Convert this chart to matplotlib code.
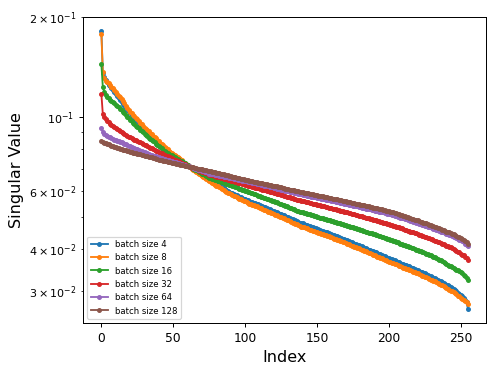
import numpy as np
import matplotlib
matplotlib.use("Agg")
import matplotlib.pyplot as plt

labels = ["batch size 4", "batch size 8", "batch size 16",
          "batch size 32", "batch size 64", "batch size 128"]

bs4 = [
    0.1822, 0.1357, 0.1320, 0.1292, 0.1272, 0.1253, 0.1238, 0.1223, 0.1207, 0.1192,
    0.1177, 0.1160, 0.1144, 0.1127, 0.1111, 0.1094, 0.1081, 0.1068, 0.1054, 0.1041,
    0.1028, 0.1017, 0.1006, 0.0996, 0.0985, 0.0974, 0.0963, 0.0952, 0.0942, 0.0931,
    0.0920, 0.0912, 0.0903, 0.0895, 0.0887, 0.0879, 0.0870, 0.0862, 0.0854, 0.0846,
    0.0837, 0.0829, 0.0821, 0.0813, 0.0804, 0.0796, 0.0791, 0.0785, 0.0780, 0.0774,
    0.0769, 0.0764, 0.0758, 0.0753, 0.0748, 0.0742, 0.0737, 0.0731, 0.0726, 0.0721,
    0.0715, 0.0710, 0.0705, 0.0701, 0.0696, 0.0692, 0.0687, 0.0683, 0.0678, 0.0673,
    0.0669, 0.0664, 0.0660, 0.0655, 0.0651, 0.0646, 0.0642, 0.0639, 0.0635, 0.0632,
    0.0628, 0.0624, 0.0621, 0.0617, 0.0614, 0.0610, 0.0606, 0.0603, 0.0599, 0.0596,
    0.0592, 0.0589, 0.0587, 0.0584, 0.0582, 0.0579, 0.0576, 0.0574, 0.0571, 0.0568,
    0.0566, 0.0563, 0.0561, 0.0558, 0.0556, 0.0554, 0.0552, 0.0550, 0.0548, 0.0546,
    0.0543, 0.0541, 0.0539, 0.0537, 0.0535, 0.0532, 0.0530, 0.0528, 0.0526, 0.0523,
    0.0521, 0.0519, 0.0517, 0.0515, 0.0512, 0.0510, 0.0508, 0.0506, 0.0503, 0.0501,
    0.0499, 0.0497, 0.0494, 0.0492, 0.0490, 0.0488, 0.0486, 0.0483, 0.0481, 0.0479,
    0.0478, 0.0476, 0.0474, 0.0473, 0.0471, 0.0469, 0.0467, 0.0466, 0.0464, 0.0462,
    0.0461, 0.0459, 0.0457, 0.0455, 0.0454, 0.0452, 0.0450, 0.0449, 0.0447, 0.0445,
    0.0444, 0.0442, 0.0440, 0.0438, 0.0437, 0.0435, 0.0433, 0.0432, 0.0430, 0.0428,
    0.0427, 0.0425, 0.0423, 0.0421, 0.0420, 0.0418, 0.0416, 0.0415, 0.0413, 0.0411,
    0.0410, 0.0408, 0.0406, 0.0404, 0.0403, 0.0401, 0.0399, 0.0398, 0.0396, 0.0394,
    0.0393, 0.0391, 0.0389, 0.0388, 0.0386, 0.0384, 0.0382, 0.0381, 0.0379, 0.0377,
    0.0376, 0.0374, 0.0373, 0.0371, 0.0370, 0.0368, 0.0367, 0.0365, 0.0364, 0.0362,
    0.0361, 0.0359, 0.0358, 0.0356, 0.0355, 0.0353, 0.0352, 0.0350, 0.0348, 0.0347,
    0.0345, 0.0344, 0.0342, 0.0341, 0.0339, 0.0338, 0.0336, 0.0335, 0.0333, 0.0332,
    0.0330, 0.0328, 0.0327, 0.0325, 0.0323, 0.0321, 0.0320, 0.0318, 0.0316, 0.0314,
    0.0313, 0.0311, 0.0309, 0.0307, 0.0306, 0.0304, 0.0301, 0.0299, 0.0296, 0.0294,
    0.0291, 0.0288, 0.0285, 0.0282, 0.0277, 0.0264,
]

bs8 = [
    0.1778, 0.1366, 0.1310, 0.1288, 0.1277, 0.1266, 0.1251, 0.1235, 0.1220, 0.1204,
    0.1189, 0.1175, 0.1161, 0.1147, 0.1133, 0.1116, 0.1100, 0.1083, 0.1067, 0.1050,
    0.1039, 0.1028, 0.1017, 0.1006, 0.0995, 0.0985, 0.0974, 0.0963, 0.0952, 0.0941,
    0.0930, 0.0922, 0.0913, 0.0905, 0.0897, 0.0888, 0.0880, 0.0872, 0.0863, 0.0855,
    0.0847, 0.0838, 0.0830, 0.0822, 0.0813, 0.0805, 0.0799, 0.0793, 0.0787, 0.0781,
    0.0775, 0.0769, 0.0763, 0.0758, 0.0752, 0.0746, 0.0740, 0.0734, 0.0728, 0.0722,
    0.0716, 0.0710, 0.0705, 0.0700, 0.0695, 0.0690, 0.0685, 0.0680, 0.0675, 0.0670,
    0.0665, 0.0660, 0.0655, 0.0650, 0.0645, 0.0640, 0.0636, 0.0633, 0.0629, 0.0625,
    0.0622, 0.0618, 0.0614, 0.0611, 0.0607, 0.0603, 0.0600, 0.0596, 0.0592, 0.0589,
    0.0585, 0.0582, 0.0579, 0.0577, 0.0574, 0.0571, 0.0568, 0.0566, 0.0563, 0.0560,
    0.0557, 0.0555, 0.0552, 0.0549, 0.0547, 0.0544, 0.0542, 0.0540, 0.0538, 0.0535,
    0.0533, 0.0531, 0.0529, 0.0526, 0.0524, 0.0522, 0.0519, 0.0517, 0.0515, 0.0513,
    0.0510, 0.0508, 0.0506, 0.0504, 0.0501, 0.0499, 0.0497, 0.0495, 0.0492, 0.0490,
    0.0488, 0.0486, 0.0484, 0.0481, 0.0479, 0.0477, 0.0475, 0.0472, 0.0470, 0.0468,
    0.0467, 0.0465, 0.0463, 0.0462, 0.0460, 0.0458, 0.0457, 0.0455, 0.0453, 0.0452,
    0.0450, 0.0448, 0.0447, 0.0445, 0.0443, 0.0442, 0.0440, 0.0438, 0.0437, 0.0435,
    0.0434, 0.0432, 0.0430, 0.0429, 0.0427, 0.0425, 0.0424, 0.0422, 0.0420, 0.0419,
    0.0417, 0.0415, 0.0414, 0.0412, 0.0410, 0.0409, 0.0407, 0.0405, 0.0404, 0.0402,
    0.0400, 0.0399, 0.0397, 0.0395, 0.0394, 0.0392, 0.0390, 0.0389, 0.0387, 0.0385,
    0.0384, 0.0382, 0.0380, 0.0379, 0.0377, 0.0375, 0.0374, 0.0372, 0.0370, 0.0369,
    0.0367, 0.0366, 0.0364, 0.0363, 0.0361, 0.0360, 0.0358, 0.0357, 0.0355, 0.0354,
    0.0352, 0.0351, 0.0349, 0.0348, 0.0346, 0.0345, 0.0344, 0.0342, 0.0341, 0.0339,
    0.0338, 0.0336, 0.0335, 0.0333, 0.0332, 0.0330, 0.0329, 0.0327, 0.0326, 0.0324,
    0.0323, 0.0321, 0.0320, 0.0318, 0.0316, 0.0314, 0.0313, 0.0311, 0.0309, 0.0307,
    0.0306, 0.0304, 0.0302, 0.0300, 0.0299, 0.0297, 0.0295, 0.0293, 0.0290, 0.0288,
    0.0286, 0.0284, 0.0281, 0.0279, 0.0277, 0.0274,
]

bs16 = [
    0.1441, 0.1234, 0.1189, 0.1165, 0.1152, 0.1138, 0.1125, 0.1117, 0.1108, 0.1100,
    0.1091, 0.1081, 0.1070, 0.1060, 0.1050, 0.1039, 0.1027, 0.1016, 0.1004, 0.0993,
    0.0982, 0.0970, 0.0959, 0.0951, 0.0942, 0.0934, 0.0926, 0.0917, 0.0909, 0.0901,
    0.0892, 0.0884, 0.0876, 0.0867, 0.0859, 0.0852, 0.0846, 0.0839, 0.0832, 0.0825,
    0.0819, 0.0812, 0.0805, 0.0798, 0.0792, 0.0785, 0.0780, 0.0776, 0.0771, 0.0767,
    0.0762, 0.0758, 0.0753, 0.0748, 0.0744, 0.0739, 0.0735, 0.0730, 0.0725, 0.0720,
    0.0715, 0.0710, 0.0706, 0.0702, 0.0699, 0.0695, 0.0691, 0.0687, 0.0683, 0.0680,
    0.0676, 0.0672, 0.0668, 0.0664, 0.0661, 0.0657, 0.0655, 0.0652, 0.0650, 0.0648,
    0.0646, 0.0643, 0.0641, 0.0639, 0.0636, 0.0634, 0.0632, 0.0630, 0.0627, 0.0625,
    0.0623, 0.0620, 0.0618, 0.0616, 0.0614, 0.0611, 0.0609, 0.0607, 0.0604, 0.0602,
    0.0600, 0.0598, 0.0595, 0.0593, 0.0591, 0.0589, 0.0587, 0.0585, 0.0582, 0.0580,
    0.0578, 0.0576, 0.0574, 0.0572, 0.0570, 0.0568, 0.0566, 0.0563, 0.0561, 0.0559,
    0.0557, 0.0555, 0.0553, 0.0551, 0.0549, 0.0546, 0.0544, 0.0542, 0.0540, 0.0538,
    0.0536, 0.0534, 0.0532, 0.0530, 0.0527, 0.0525, 0.0523, 0.0521, 0.0519, 0.0518,
    0.0516, 0.0515, 0.0513, 0.0512, 0.0510, 0.0509, 0.0507, 0.0506, 0.0504, 0.0503,
    0.0501, 0.0500, 0.0498, 0.0497, 0.0495, 0.0494, 0.0493, 0.0491, 0.0490, 0.0488,
    0.0487, 0.0485, 0.0484, 0.0482, 0.0481, 0.0479, 0.0478, 0.0476, 0.0475, 0.0473,
    0.0472, 0.0470, 0.0469, 0.0468, 0.0466, 0.0465, 0.0463, 0.0462, 0.0460, 0.0459,
    0.0457, 0.0456, 0.0454, 0.0453, 0.0451, 0.0450, 0.0448, 0.0447, 0.0446, 0.0444,
    0.0443, 0.0441, 0.0440, 0.0438, 0.0437, 0.0435, 0.0434, 0.0432, 0.0431, 0.0429,
    0.0428, 0.0426, 0.0425, 0.0423, 0.0422, 0.0420, 0.0419, 0.0417, 0.0416, 0.0414,
    0.0413, 0.0411, 0.0410, 0.0408, 0.0407, 0.0405, 0.0404, 0.0402, 0.0400, 0.0399,
    0.0397, 0.0396, 0.0394, 0.0393, 0.0391, 0.0390, 0.0388, 0.0387, 0.0385, 0.0384,
    0.0382, 0.0380, 0.0378, 0.0376, 0.0374, 0.0372, 0.0370, 0.0368, 0.0365, 0.0363,
    0.0361, 0.0359, 0.0357, 0.0355, 0.0353, 0.0351, 0.0349, 0.0347, 0.0345, 0.0343,
    0.0341, 0.0338, 0.0334, 0.0331, 0.0327, 0.0323,
]

bs32 = [
    0.1173, 0.1021, 0.1000, 0.0986, 0.0976, 0.0966, 0.0956, 0.0946, 0.0940, 0.0933,
    0.0927, 0.0920, 0.0914, 0.0908, 0.0902, 0.0896, 0.0890, 0.0884, 0.0878, 0.0872,
    0.0868, 0.0864, 0.0860, 0.0856, 0.0852, 0.0847, 0.0843, 0.0839, 0.0835, 0.0830,
    0.0826, 0.0822, 0.0818, 0.0813, 0.0809, 0.0805, 0.0801, 0.0797, 0.0793, 0.0789,
    0.0786, 0.0782, 0.0778, 0.0774, 0.0770, 0.0766, 0.0763, 0.0759, 0.0756, 0.0752,
    0.0749, 0.0745, 0.0742, 0.0738, 0.0735, 0.0731, 0.0728, 0.0724, 0.0720, 0.0717,
    0.0713, 0.0710, 0.0707, 0.0704, 0.0702, 0.0699, 0.0696, 0.0693, 0.0690, 0.0688,
    0.0685, 0.0682, 0.0679, 0.0677, 0.0674, 0.0671, 0.0669, 0.0667, 0.0666, 0.0664,
    0.0662, 0.0660, 0.0658, 0.0656, 0.0655, 0.0653, 0.0651, 0.0649, 0.0647, 0.0646,
    0.0644, 0.0642, 0.0640, 0.0638, 0.0636, 0.0635, 0.0633, 0.0631, 0.0629, 0.0627,
    0.0625, 0.0624, 0.0622, 0.0620, 0.0618, 0.0617, 0.0615, 0.0613, 0.0612, 0.0610,
    0.0608, 0.0606, 0.0605, 0.0603, 0.0601, 0.0600, 0.0598, 0.0596, 0.0595, 0.0593,
    0.0591, 0.0590, 0.0588, 0.0586, 0.0585, 0.0583, 0.0581, 0.0579, 0.0578, 0.0576,
    0.0574, 0.0573, 0.0571, 0.0569, 0.0568, 0.0566, 0.0564, 0.0563, 0.0561, 0.0560,
    0.0558, 0.0557, 0.0556, 0.0554, 0.0553, 0.0551, 0.0550, 0.0549, 0.0547, 0.0546,
    0.0545, 0.0543, 0.0542, 0.0540, 0.0539, 0.0538, 0.0536, 0.0535, 0.0534, 0.0532,
    0.0531, 0.0529, 0.0528, 0.0527, 0.0525, 0.0524, 0.0523, 0.0521, 0.0520, 0.0519,
    0.0517, 0.0516, 0.0514, 0.0513, 0.0512, 0.0510, 0.0509, 0.0508, 0.0506, 0.0505,
    0.0503, 0.0502, 0.0501, 0.0499, 0.0498, 0.0497, 0.0495, 0.0494, 0.0492, 0.0491,
    0.0490, 0.0488, 0.0487, 0.0486, 0.0484, 0.0483, 0.0481, 0.0480, 0.0479, 0.0477,
    0.0476, 0.0474, 0.0473, 0.0471, 0.0470, 0.0468, 0.0466, 0.0465, 0.0463, 0.0462,
    0.0460, 0.0458, 0.0457, 0.0455, 0.0454, 0.0452, 0.0450, 0.0449, 0.0447, 0.0446,
    0.0444, 0.0442, 0.0441, 0.0439, 0.0438, 0.0436, 0.0434, 0.0433, 0.0431, 0.0430,
    0.0428, 0.0426, 0.0424, 0.0423, 0.0421, 0.0419, 0.0417, 0.0415, 0.0414, 0.0412,
    0.0410, 0.0408, 0.0406, 0.0405, 0.0403, 0.0401, 0.0398, 0.0396, 0.0393, 0.0391,
    0.0388, 0.0385, 0.0383, 0.0380, 0.0376, 0.0372,
]

bs64 = [
    0.0929, 0.0903, 0.0889, 0.0881, 0.0877, 0.0872, 0.0868, 0.0863, 0.0860, 0.0856,
    0.0853, 0.0849, 0.0846, 0.0842, 0.0839, 0.0835, 0.0831, 0.0828, 0.0824, 0.0820,
    0.0816, 0.0813, 0.0809, 0.0806, 0.0803, 0.0799, 0.0796, 0.0793, 0.0790, 0.0787,
    0.0784, 0.0780, 0.0777, 0.0774, 0.0771, 0.0769, 0.0766, 0.0764, 0.0762, 0.0759,
    0.0757, 0.0754, 0.0752, 0.0750, 0.0747, 0.0745, 0.0743, 0.0741, 0.0738, 0.0736,
    0.0734, 0.0732, 0.0730, 0.0728, 0.0725, 0.0723, 0.0721, 0.0719, 0.0717, 0.0714,
    0.0712, 0.0710, 0.0708, 0.0705, 0.0703, 0.0700, 0.0698, 0.0695, 0.0693, 0.0691,
    0.0688, 0.0686, 0.0683, 0.0681, 0.0678, 0.0676, 0.0675, 0.0673, 0.0672, 0.0670,
    0.0669, 0.0668, 0.0666, 0.0665, 0.0663, 0.0662, 0.0661, 0.0659, 0.0658, 0.0657,
    0.0655, 0.0654, 0.0652, 0.0651, 0.0650, 0.0648, 0.0647, 0.0645, 0.0644, 0.0643,
    0.0641, 0.0640, 0.0638, 0.0637, 0.0636, 0.0634, 0.0633, 0.0631, 0.0630, 0.0628,
    0.0627, 0.0625, 0.0624, 0.0622, 0.0621, 0.0619, 0.0618, 0.0617, 0.0615, 0.0614,
    0.0612, 0.0611, 0.0609, 0.0608, 0.0606, 0.0605, 0.0603, 0.0602, 0.0600, 0.0599,
    0.0598, 0.0596, 0.0595, 0.0593, 0.0592, 0.0590, 0.0589, 0.0587, 0.0586, 0.0585,
    0.0584, 0.0582, 0.0581, 0.0580, 0.0579, 0.0578, 0.0576, 0.0575, 0.0574, 0.0573,
    0.0571, 0.0570, 0.0569, 0.0568, 0.0567, 0.0565, 0.0564, 0.0563, 0.0562, 0.0561,
    0.0559, 0.0558, 0.0557, 0.0556, 0.0555, 0.0553, 0.0552, 0.0551, 0.0550, 0.0548,
    0.0547, 0.0546, 0.0545, 0.0544, 0.0542, 0.0541, 0.0540, 0.0539, 0.0538, 0.0536,
    0.0535, 0.0534, 0.0533, 0.0532, 0.0530, 0.0529, 0.0528, 0.0527, 0.0526, 0.0524,
    0.0523, 0.0522, 0.0521, 0.0519, 0.0518, 0.0517, 0.0516, 0.0515, 0.0513, 0.0512,
    0.0511, 0.0509, 0.0508, 0.0506, 0.0505, 0.0503, 0.0501, 0.0500, 0.0498, 0.0497,
    0.0495, 0.0493, 0.0492, 0.0490, 0.0489, 0.0487, 0.0485, 0.0484, 0.0482, 0.0481,
    0.0479, 0.0477, 0.0476, 0.0474, 0.0473, 0.0471, 0.0469, 0.0468, 0.0466, 0.0465,
    0.0463, 0.0461, 0.0459, 0.0458, 0.0456, 0.0454, 0.0452, 0.0450, 0.0449, 0.0447,
    0.0445, 0.0443, 0.0441, 0.0440, 0.0438, 0.0436, 0.0434, 0.0432, 0.0430, 0.0427,
    0.0425, 0.0422, 0.0419, 0.0416, 0.0413, 0.0409,
]

bs128 = [
    0.0850, 0.0842, 0.0837, 0.0833, 0.0830, 0.0828, 0.0825, 0.0821, 0.0818, 0.0815,
    0.0812, 0.0808, 0.0805, 0.0803, 0.0800, 0.0798, 0.0796, 0.0794, 0.0791, 0.0789,
    0.0787, 0.0784, 0.0782, 0.0780, 0.0778, 0.0776, 0.0774, 0.0772, 0.0770, 0.0768,
    0.0766, 0.0764, 0.0762, 0.0760, 0.0758, 0.0756, 0.0754, 0.0752, 0.0750, 0.0748,
    0.0745, 0.0743, 0.0741, 0.0739, 0.0737, 0.0735, 0.0733, 0.0732, 0.0730, 0.0728,
    0.0727, 0.0725, 0.0723, 0.0722, 0.0720, 0.0718, 0.0717, 0.0715, 0.0713, 0.0712,
    0.0710, 0.0709, 0.0708, 0.0706, 0.0705, 0.0703, 0.0702, 0.0700, 0.0699, 0.0697,
    0.0696, 0.0694, 0.0693, 0.0691, 0.0690, 0.0688, 0.0686, 0.0685, 0.0683, 0.0682,
    0.0680, 0.0678, 0.0677, 0.0675, 0.0674, 0.0672, 0.0670, 0.0669, 0.0667, 0.0665,
    0.0664, 0.0662, 0.0661, 0.0659, 0.0657, 0.0656, 0.0654, 0.0653, 0.0651, 0.0649,
    0.0648, 0.0646, 0.0645, 0.0643, 0.0642, 0.0640, 0.0639, 0.0638, 0.0636, 0.0635,
    0.0634, 0.0632, 0.0631, 0.0630, 0.0628, 0.0627, 0.0626, 0.0624, 0.0623, 0.0622,
    0.0620, 0.0619, 0.0618, 0.0616, 0.0615, 0.0614, 0.0612, 0.0611, 0.0609, 0.0608,
    0.0607, 0.0605, 0.0604, 0.0603, 0.0601, 0.0600, 0.0599, 0.0597, 0.0596, 0.0595,
    0.0594, 0.0592, 0.0591, 0.0590, 0.0589, 0.0588, 0.0586, 0.0585, 0.0584, 0.0583,
    0.0581, 0.0580, 0.0579, 0.0578, 0.0577, 0.0575, 0.0574, 0.0573, 0.0572, 0.0571,
    0.0569, 0.0568, 0.0567, 0.0566, 0.0565, 0.0563, 0.0562, 0.0561, 0.0560, 0.0558,
    0.0557, 0.0556, 0.0555, 0.0554, 0.0552, 0.0551, 0.0550, 0.0549, 0.0548, 0.0546,
    0.0545, 0.0544, 0.0543, 0.0542, 0.0540, 0.0539, 0.0538, 0.0537, 0.0536, 0.0534,
    0.0533, 0.0532, 0.0531, 0.0529, 0.0528, 0.0527, 0.0526, 0.0525, 0.0523, 0.0522,
    0.0521, 0.0519, 0.0518, 0.0516, 0.0514, 0.0513, 0.0511, 0.0509, 0.0508, 0.0506,
    0.0504, 0.0503, 0.0501, 0.0499, 0.0498, 0.0496, 0.0494, 0.0493, 0.0491, 0.0489,
    0.0488, 0.0486, 0.0484, 0.0483, 0.0481, 0.0479, 0.0478, 0.0476, 0.0474, 0.0473,
    0.0471, 0.0469, 0.0467, 0.0465, 0.0464, 0.0462, 0.0460, 0.0458, 0.0456, 0.0454,
    0.0452, 0.0450, 0.0449, 0.0447, 0.0445, 0.0443, 0.0441, 0.0438, 0.0436, 0.0434,
    0.0431, 0.0428, 0.0425, 0.0422, 0.0419, 0.0415,
]

series = [bs4, bs8, bs16, bs32, bs64, bs128]

DPI = 88.6
fig = plt.figure(figsize=(498.3 / DPI, 374.3 / DPI), dpi=DPI)
ax = fig.add_axes([83 / 498, 51 / 374, 403 / 498, 306 / 374])

for vals, lab in zip(series, labels):
    ax.plot(np.arange(len(vals)), vals, marker='.', label=lab)

ax.set_yscale('log')
ax.tick_params(axis='y', which='both', labelsize=9)
ax.tick_params(axis='x', labelsize=10)
ax.set_xlabel('Index', fontsize=13)
ax.set_ylabel('Singular Value', fontsize=13)
ax.legend(loc='lower left', fontsize='x-small')

fig.savefig('out.png', dpi=DPI)
